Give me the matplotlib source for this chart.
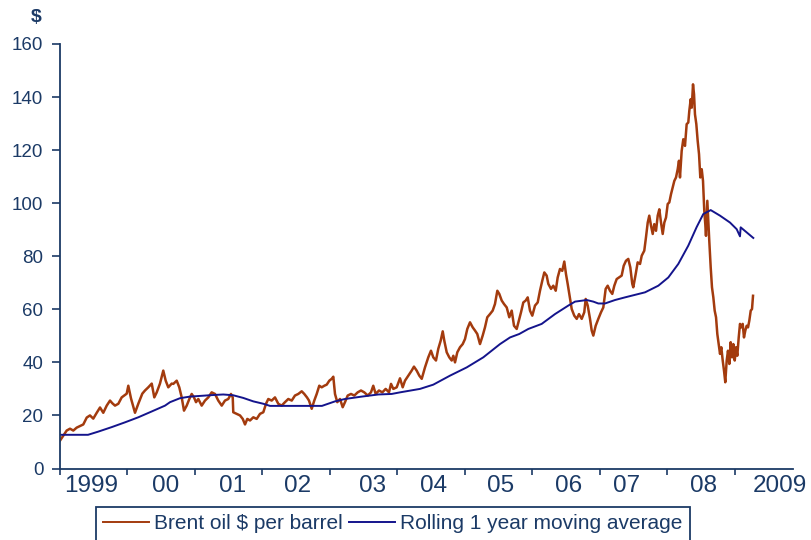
import matplotlib
matplotlib.use('Agg')
import matplotlib.pyplot as plt
import numpy as np

plt.rcParams['font.family'] = ['Liberation Sans', 'DejaVu Sans']

# Datos (anio = 1999 + desplazamiento)
brent_t = [0.000, 0.049, 0.099, 0.148, 0.197, 0.247, 0.296, 0.345, 0.396, 0.444,
           0.493, 0.544, 0.593, 0.641, 0.692, 0.741, 0.775, 0.815, 0.864, 0.914,
           0.988, 1.012, 1.052, 1.111, 1.160, 1.219, 1.259, 1.308, 1.359, 1.397,
           1.433, 1.481, 1.530, 1.566, 1.604, 1.655, 1.679, 1.729, 1.767, 1.803,
           1.837, 1.877, 1.916, 1.951, 1.985, 2.015, 2.049, 2.099, 2.148, 2.197,
           2.247, 2.296, 2.345, 2.396, 2.444, 2.493, 2.533, 2.559, 2.567, 2.618,
           2.667, 2.707, 2.741, 2.775, 2.815, 2.864, 2.914, 2.963, 3.012, 3.052,
           3.086, 3.136, 3.185, 3.234, 3.284, 3.333, 3.382, 3.433, 3.481, 3.530,
           3.581, 3.619, 3.659, 3.689, 3.729, 3.767, 3.803, 3.841, 3.877, 3.916,
           3.951, 3.990, 4.025, 4.049, 4.074, 4.108, 4.148, 4.188, 4.222, 4.262,
           4.311, 4.360, 4.410, 4.459, 4.508, 4.559, 4.607, 4.641, 4.677, 4.726,
           4.775, 4.825, 4.874, 4.904, 4.938, 4.988, 5.037, 5.077, 5.111, 5.160,
           5.210, 5.244, 5.284, 5.323, 5.359, 5.407, 5.456, 5.496, 5.530, 5.570,
           5.604, 5.640, 5.670, 5.693, 5.729, 5.767, 5.803, 5.827, 5.852, 5.886,
           5.926, 5.966, 6.000, 6.034, 6.074, 6.114, 6.148, 6.182, 6.222, 6.262,
           6.296, 6.330, 6.370, 6.410, 6.444, 6.479, 6.508, 6.544, 6.578, 6.618,
           6.656, 6.692, 6.726, 6.766, 6.804, 6.830, 6.864, 6.899, 6.929, 6.963,
           6.997, 7.037, 7.077, 7.111, 7.145, 7.175, 7.210, 7.234, 7.274, 7.308,
           7.344, 7.373, 7.407, 7.441, 7.471, 7.496, 7.521, 7.545, 7.581, 7.619,
           7.655, 7.689, 7.729, 7.767, 7.788, 7.818, 7.852, 7.877, 7.901, 7.936,
           7.975, 8.015, 8.049, 8.084, 8.114, 8.148, 8.182, 8.212, 8.247, 8.281,
           8.321, 8.351, 8.385, 8.419, 8.449, 8.478, 8.493, 8.529, 8.558, 8.593,
           8.618, 8.656, 8.681, 8.707, 8.730, 8.756, 8.781, 8.804, 8.830, 8.855,
           8.879, 8.904, 8.929, 8.953, 8.978, 9.003, 9.027, 9.052, 9.077, 9.101,
           9.126, 9.151, 9.170, 9.185, 9.210, 9.234, 9.259, 9.284, 9.308, 9.323,
           9.344, 9.359, 9.378, 9.393, 9.407, 9.427, 9.447, 9.467, 9.486, 9.507,
           9.526, 9.545, 9.560, 9.570, 9.590, 9.604, 9.619, 9.640, 9.659, 9.679,
           9.699, 9.719, 9.738, 9.759, 9.778, 9.797, 9.818, 9.837, 9.856, 9.877,
           9.896, 9.916, 9.936, 9.956, 9.975, 9.996, 10.015, 10.034, 10.055, 10.074,
           10.093, 10.114, 10.133, 10.153, 10.173, 10.193, 10.212, 10.233, 10.252, 10.267]
brent_val = [10.5, 12.4, 14.3, 15.0, 14.3, 15.4, 16.0, 16.6, 19.2, 20.0,
             18.8, 21.0, 23.0, 21.0, 23.7, 25.6, 24.6, 23.7, 24.4, 26.8,
             28.2, 31.2, 26.4, 21.0, 24.4, 28.2, 29.4, 30.6, 32.0, 26.8,
             28.7, 32.0, 36.9, 33.1, 30.6, 32.0, 31.9, 33.1, 30.6, 26.8,
             21.8, 23.7, 26.2, 28.1, 26.8, 25.0, 26.2, 23.7, 25.6, 26.8,
             28.7, 28.1, 25.6, 23.7, 25.6, 26.2, 28.1, 26.8, 21.2, 20.6,
             20.0, 18.7, 16.6, 18.7, 18.1, 19.3, 18.7, 20.6, 21.2, 24.4,
             26.2, 25.6, 26.8, 24.4, 23.7, 25.0, 26.2, 25.6, 27.5, 28.1,
             29.1, 28.1, 26.8, 25.6, 22.5, 25.6, 28.1, 31.2, 30.6, 31.2,
             31.6, 33.1, 33.8, 34.6, 28.1, 25.0, 26.2, 23.1, 25.0, 27.5,
             28.1, 27.5, 28.7, 29.4, 28.7, 27.5, 28.7, 31.2, 28.1, 29.4,
             28.7, 30.0, 28.7, 31.9, 30.0, 30.6, 34.0, 30.6, 33.1, 35.0,
             36.9, 38.4, 36.9, 35.0, 33.8, 38.1, 41.9, 44.4, 41.9, 40.7,
             45.1, 48.2, 51.7, 48.2, 43.8, 41.9, 40.7, 42.5, 40.0, 43.8,
             45.7, 46.9, 48.8, 52.6, 55.1, 53.2, 52.0, 50.7, 46.9, 50.1,
             53.2, 57.0, 58.2, 59.5, 62.0, 67.0, 65.8, 63.3, 62.0, 60.7,
             57.0, 59.5, 53.8, 52.6, 56.4, 58.9, 62.6, 63.3, 64.5, 59.5,
             57.6, 61.4, 62.6, 67.0, 70.8, 73.9, 72.7, 69.6, 67.7, 68.9,
             67.0, 72.0, 75.2, 74.5, 78.0, 73.3, 69.6, 65.8, 60.1, 57.6,
             56.4, 58.2, 56.4, 58.9, 63.9, 61.4, 56.4, 52.0, 50.1, 53.8,
             56.4, 58.9, 60.7, 67.7, 68.9, 67.0, 65.8, 68.9, 71.4, 72.0,
             72.7, 76.4, 78.3, 79.0, 75.8, 69.6, 68.3, 73.3, 77.7, 77.1,
             80.2, 82.1, 87.1, 92.7, 95.3, 91.5, 88.4, 92.1, 89.6, 95.3,
             97.7, 92.7, 88.4, 92.7, 94.6, 99.7, 100.3, 103.4, 105.9, 108.4,
             109.7, 112.8, 116.0, 109.7, 119.7, 124.1, 121.6, 129.8, 130.4, 134.8,
             139.2, 136.0, 144.8, 141.1, 133.5, 129.8, 123.5, 118.5, 109.7, 112.8,
             108.4, 97.1, 92.0, 87.7, 100.9, 93.4, 85.8, 75.8, 68.3, 64.5,
             59.5, 57.0, 50.7, 46.9, 43.2, 45.7, 40.7, 36.9, 32.5, 40.7,
             44.4, 39.4, 47.6, 41.9, 46.9, 40.7, 45.7, 42.5, 49.4, 54.5,
             53.2, 54.5, 49.4, 52.0, 53.8, 53.2, 55.7, 59.5, 60.1, 65.1]

media_t = [0.000, 0.415, 0.567, 0.766, 0.963, 1.160, 1.359, 1.556, 1.630, 1.778,
           1.926, 2.271, 2.419, 2.567, 2.715, 2.864, 3.012, 3.111, 3.881, 3.926,
           4.074, 4.222, 4.470, 4.716, 4.914, 5.037, 5.333, 5.530, 5.778, 6.025,
           6.271, 6.519, 6.667, 6.804, 6.938, 7.136, 7.333, 7.530, 7.630, 7.803,
           7.901, 7.975, 8.074, 8.222, 8.370, 8.667, 8.864, 9.012, 9.160, 9.308,
           9.432, 9.530, 9.640, 9.778, 9.926, 10.025, 10.074, 10.084, 10.173, 10.271]
media_val = [12.7, 12.7, 13.9, 15.6, 17.4, 19.3, 21.5, 23.7, 25.0, 26.5,
             27.1, 27.7, 27.9, 27.6, 26.6, 25.3, 24.4, 23.6, 23.6, 24.0,
             25.3, 26.2, 27.1, 27.9, 28.1, 28.7, 30.0, 31.6, 35.0, 38.1,
             41.9, 46.9, 49.4, 50.7, 52.6, 54.5, 58.2, 61.4, 62.9, 63.5,
             62.9, 62.2, 62.2, 63.5, 64.5, 66.4, 68.9, 72.0, 77.1, 84.0,
             91.0, 95.9, 97.4, 95.3, 92.7, 90.2, 87.5, 90.9, 89.0, 86.9]

etiquetas = ['1999', '00', '01', '02', '03', '04', '05', '06', '07', '08', '2009']
pos_etiquetas = [0.46, 1.57, 2.55, 3.52, 4.63, 5.54, 6.53, 7.54, 8.40, 9.54, 10.67]

azul_texto = '#1B3A66'
color_brent = '#A33B0E'
color_media = '#14148C'

fig = plt.figure(figsize=(8.11, 5.40), dpi=100)
ax = fig.add_axes([60 / 811, 1 - 468.5 / 540, 733 / 811, 424.5 / 540])

x_brent = 1999 + np.array(brent_t)
x_media = 1999 + np.array(media_t)
ax.plot(x_brent, brent_val, color=color_brent, lw=1.8, label='Brent oil $ per barrel')
ax.plot(x_media, media_val, color=color_media, lw=1.4, label='Rolling 1 year moving average')

ax.set_xlim(1999, 1999 + 733 / 67.5)
ax.set_ylim(0, 160)

# Ejes
for lado in ['top', 'right']:
    ax.spines[lado].set_visible(False)
for lado in ['left', 'bottom']:
    ax.spines[lado].set_color(azul_texto)
    ax.spines[lado].set_linewidth(1.3)

ax.set_yticks(range(0, 161, 20))
ax.tick_params(axis='y', direction='out', length=6, width=1.2, color=azul_texto,
               labelcolor=azul_texto, labelsize=13.5, pad=6)

ax.set_xticks(range(1999, 2010))
ax.set_xticklabels([])
ax.set_xticks([1999 + p for p in pos_etiquetas], minor=True)
ax.set_xticklabels(etiquetas, minor=True)
ax.tick_params(axis='x', which='major', direction='out', length=4.5, width=1.2, color=azul_texto)
ax.tick_params(axis='x', which='minor', length=0, labelcolor=azul_texto, labelsize=17.5, pad=5)

fig.text(36 / 811, 1 - 17 / 540, '$', color=azul_texto, fontsize=14, fontweight='bold',
         ha='center', va='center')

# Leyenda (recortada por el borde inferior como en el original)
leg = ax.legend(loc='upper left', bbox_to_anchor=(95.7 / 811, 1 - 507 / 540),
                bbox_transform=fig.transFigure, ncol=2, fontsize=15, frameon=True,
                fancybox=False, borderaxespad=0, borderpad=0.35, handlelength=2.2,
                handletextpad=0.25, columnspacing=0.3, labelcolor=azul_texto)
leg.get_frame().set_edgecolor(azul_texto)
leg.get_frame().set_linewidth(1.3)
leg.get_frame().set_alpha(1)
for linea in leg.get_lines():
    linea.set_linewidth(1.4)

fig.savefig('out.png', dpi=100)
